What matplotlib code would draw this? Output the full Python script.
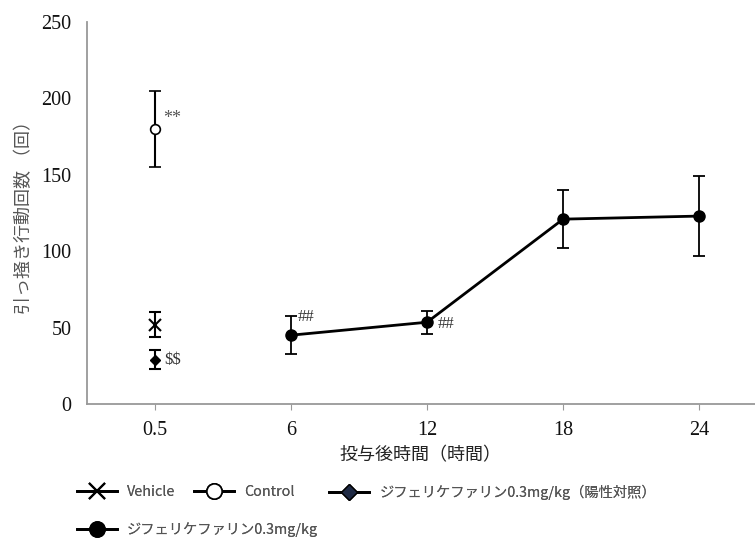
import matplotlib.pyplot as plt

plt.rcParams['font.family'] = ['Noto Sans CJK JP', 'DejaVu Sans']

time_labels = ['0.5', '6', '12', '18', '24']
x_pos = [0, 1, 2, 3, 4]

vehicle_mean, vehicle_err = 52, 8.5
control_mean, control_err = 180, 25
positive_mean, positive_err = 29, 6
drug_mean = [45, 53.5, 121, 123]
drug_err = [12.5, 7.5, 19, 26]

fig = plt.figure(figsize=(7.55, 5.4), dpi=100)
ax = fig.add_axes([0.115, 0.252, 0.885, 0.707])

ax.errorbar([0], [vehicle_mean], yerr=[vehicle_err], fmt='x', color='black',
            ms=8, mew=1.5, capsize=4, elinewidth=1.5, capthick=1.5, zorder=3)
ax.errorbar([0], [control_mean], yerr=[control_err], fmt='o', color='black',
            mfc='white', ms=7, mew=1.2, capsize=4, elinewidth=1.5, capthick=1.5, zorder=3)
ax.errorbar([0], [positive_mean], yerr=[positive_err], fmt='D', color='black',
            ms=5, capsize=4, elinewidth=1.5, capthick=1.5, zorder=3)
ax.errorbar(x_pos[1:], drug_mean, yerr=drug_err, fmt='-o', color='black',
            ms=8, lw=2, capsize=4, elinewidth=1.3, capthick=1.3, zorder=3)

# significance marks
serif = 'Liberation Serif'
ax.text(0.06, control_mean + 7, '**', fontsize=13, color='#555555', family=serif, va='center')
ax.text(0.07, positive_mean, r'\$\$', fontsize=12, color='#333333', family=serif, va='center')
ax.text(1.05, drug_mean[0] + 12, '##', fontsize=12, color='#333333', family=serif, va='center')
ax.text(2.08, drug_mean[1] - 1, '##', fontsize=12, color='#333333', family=serif, va='center')

ax.set_xlim(-0.5, 4.41)
ax.set_ylim(0, 250)
ax.set_xticks(x_pos)
ax.set_xticklabels(time_labels)
ax.set_yticks(range(0, 251, 50))
for lab in ax.get_xticklabels() + ax.get_yticklabels():
    lab.set_family(serif)
    lab.set_fontsize(14.5)
    lab.set_color('#111111')
ax.tick_params(axis='y', length=0, pad=11)
ax.tick_params(axis='x', length=4, color='#999999', pad=8)
for side in ['top', 'right']:
    ax.spines[side].set_visible(False)
for side in ['left', 'bottom']:
    ax.spines[side].set_color('#999999')
    ax.spines[side].set_linewidth(1.3)

ax.set_xlabel('投与後時間（時間）', fontsize=13, color='#222222', labelpad=5)
ax.set_ylabel('引っ掻き行動回数 （回）', fontsize=13, color='#555555', labelpad=6)

h_veh, = ax.plot([], [], '-x', color='black', ms=11, mew=1.5, lw=2)
h_con, = ax.plot([], [], '-o', color='black', mfc='white', ms=11, mew=1.2, lw=2)
h_pos, = ax.plot([], [], '-D', color='black', mfc='#1f2a44', ms=8, lw=2)
h_drug, = ax.plot([], [], '-o', color='black', ms=11, lw=2)

legend_items = [
    (h_veh, 'Vehicle', (0.102, 0.089)),
    (h_con, 'Control', (0.257, 0.089)),
    (h_pos, 'ジフェリケファリン0.3mg/kg（陽性対照）', (0.436, 0.089)),
    (h_drug, 'ジフェリケファリン0.3mg/kg', (0.102, 0.0185)),
]
for h, label, pos in legend_items:
    leg = fig.legend([h], [label], loc='center left', bbox_to_anchor=pos,
                     frameon=False, fontsize=10.3, labelcolor='#555555',
                     handlelength=2.8, handletextpad=0.7, borderpad=0, borderaxespad=0)
    fig.add_artist(leg)

fig.savefig('out.png', dpi=100)
